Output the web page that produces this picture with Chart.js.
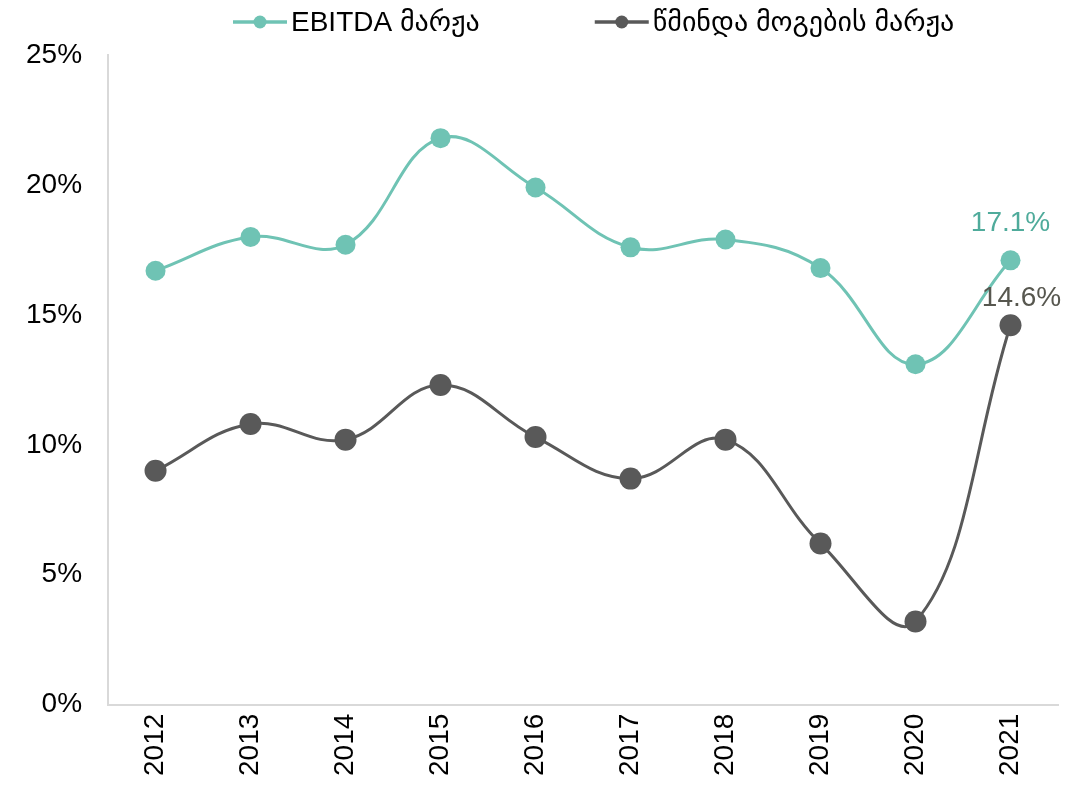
<!DOCTYPE html>
<html>
<head>
<meta charset="utf-8">
<script src="https://cdn.jsdelivr.net/npm/chart.js@4/dist/chart.umd.min.js"></script>
<style>
  html, body { margin: 0; padding: 0; background: #fff; }
  #wrap { width: 1086px; height: 791px; }
</style>
</head>
<body>
<div id="wrap"><canvas id="chart"></canvas></div>
<script>
// chart data
const years = ['2012', '2013', '2014', '2015', '2016', '2017', '2018', '2019', '2020', '2021'];
const ebitdaMargin = [16.7, 18.0, 17.7, 21.8, 19.9, 17.6, 17.9, 16.8, 13.1, 17.1];
const netMargin = [9.0, 10.8, 10.2, 12.3, 10.3, 8.7, 10.2, 6.2, 3.2, 14.6];
const yTicks = [0, 5, 10, 15, 20, 25];

const tealColor = '#6fc3b4';
const greyColor = '#595959';
const fontFamily = 'Arial, "Liberation Sans", "DejaVu Sans", sans-serif';

// legend drawn by hand: line + dot marker, then text
const topLegend = {
    id: 'topLegend',
    afterDraw(chart) {
        const ctx = chart.ctx;
        ctx.save();
        ctx.font = '28px ' + fontFamily;
        ctx.textBaseline = 'middle';
        ctx.textAlign = 'left';
        let x = 233;
        const y = 22;
        chart.data.datasets.forEach(ds => {
            ctx.strokeStyle = ds.borderColor;
            ctx.lineWidth = 3.5;
            ctx.beginPath();
            ctx.moveTo(x, y);
            ctx.lineTo(x + 54, y);
            ctx.stroke();
            ctx.fillStyle = ds.borderColor;
            ctx.beginPath();
            ctx.arc(x + 27, y, 6.5, 0, Math.PI * 2);
            ctx.fill();
            ctx.fillStyle = '#000';
            ctx.fillText(ds.label, x + 58, y + 1);
            x += 58 + ctx.measureText(ds.label).width + 115;
        });
        ctx.restore();
    }
};

// value labels on the last point of each line
const lastLabels = {
    id: 'lastLabels',
    afterDatasetsDraw(chart) {
        const ctx = chart.ctx;
        ctx.save();
        ctx.font = '28px ' + fontFamily;
        ctx.textAlign = 'center';
        ctx.textBaseline = 'middle';
        const offsets = [{dx: 0, dy: -37, color: '#4fab9b'}, {dx: 11, dy: -27, color: '#57574f'}];
        chart.data.datasets.forEach((ds, i) => {
            const meta = chart.getDatasetMeta(i);
            const pt = meta.data[meta.data.length - 1];
            const v = ds.data[ds.data.length - 1];
            ctx.fillStyle = offsets[i].color;
            ctx.fillText(v.toFixed(1) + '%', pt.x + offsets[i].dx, pt.y + offsets[i].dy);
        });
        ctx.restore();
    }
};

const chart = new Chart(document.getElementById('chart'), {
    type: 'line',
    data: {
        labels: years,
        datasets: [
            {
                label: 'EBITDA მარჟა',
                data: ebitdaMargin,
                borderColor: tealColor,
                backgroundColor: tealColor,
                borderWidth: 3,
                pointRadius: 10,
                pointHoverRadius: 10,
                pointBorderWidth: 0,
                tension: 0.4,
                fill: false
            },
            {
                label: 'წმინდა მოგების მარჟა',
                data: netMargin,
                borderColor: greyColor,
                backgroundColor: greyColor,
                borderWidth: 3,
                pointRadius: 11,
                pointHoverRadius: 11,
                pointBorderWidth: 0,
                tension: 0.4,
                fill: false
            }
        ]
    },
    options: {
        responsive: true,
        maintainAspectRatio: false,
        animation: false,
        layout: { padding: { top: 55, right: 28, left: 0, bottom: 6 } },
        plugins: {
            legend: { display: false },
            tooltip: { enabled: false }
        },
        scales: {
            x: {
                offset: true,
                grid: { display: false, drawTicks: false },
                border: { display: true, color: '#d9d9d9', width: 2 },
                ticks: {
                    color: '#000',
                    font: { size: 28, family: fontFamily },
                    minRotation: 90,
                    maxRotation: 90,
                    padding: 9
                }
            },
            y: {
                min: 0,
                max: 25,
                afterBuildTicks(axis) {
                    axis.ticks = yTicks.map(v => ({ value: v }));
                },
                grid: { display: false, drawTicks: false },
                border: { display: true, color: '#d9d9d9', width: 2 },
                ticks: {
                    color: '#000',
                    font: { size: 28, family: fontFamily },
                    padding: 26,
                    callback: v => v + '%'
                }
            }
        }
    },
    plugins: [lastLabels, topLegend]
});
</script>
</body>
</html>
